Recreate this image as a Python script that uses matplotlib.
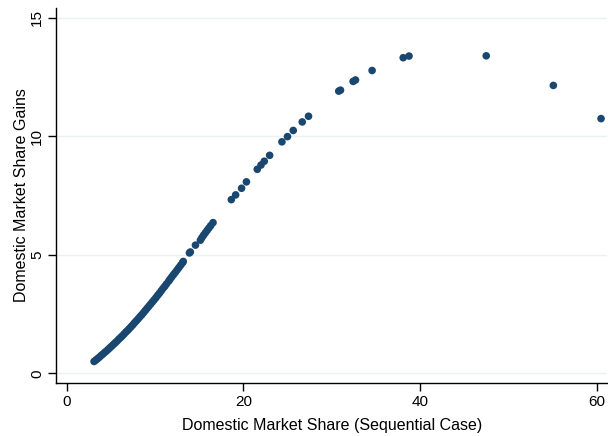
import matplotlib
matplotlib.use('Agg')
import matplotlib.pyplot as plt

plt.rcParams['font.family'] = ['Liberation Sans', 'DejaVu Sans']

# dense part of the curve
share_seq = [3.1, 3.3, 3.5, 3.7, 3.9, 4.1, 4.3, 4.5, 4.7, 4.9,
             5.1, 5.3, 5.5, 5.7, 5.9, 6.1, 6.3, 6.5, 6.7, 6.9,
             7.1, 7.3, 7.5, 7.7, 7.9, 8.1, 8.3, 8.5, 8.7, 8.9,
             9.1, 9.3, 9.5, 9.7, 9.9, 10.1, 10.3, 10.5, 10.7, 10.9,
             11.1, 11.3, 11.55, 11.7, 11.9, 12.1, 12.3, 12.5, 12.7, 12.9,
             13.1, 13.2, 13.9, 14.0, 14.58, 15.14, 15.3, 15.5, 15.7, 15.9,
             16.1, 16.3, 16.57,
             18.64, 19.13, 19.8, 20.35, 21.58, 22.0, 22.37, 22.98, 24.37, 25.0,
             25.65, 26.67, 27.38, 30.8, 31.0, 32.43, 32.7, 34.58, 38.1, 38.76,
             47.5, 55.1, 60.5]
share_gain = [0.50, 0.56, 0.62, 0.68, 0.75, 0.81, 0.88, 0.94, 1.01, 1.08,
              1.15, 1.22, 1.29, 1.36, 1.44, 1.51, 1.58, 1.66, 1.74, 1.81,
              1.89, 1.97, 2.05, 2.14, 2.22, 2.30, 2.39, 2.47, 2.56, 2.65,
              2.74, 2.83, 2.92, 3.01, 3.10, 3.19, 3.29, 3.38, 3.48, 3.58,
              3.67, 3.77, 3.89, 3.97, 4.07, 4.17, 4.26, 4.36, 4.46, 4.56,
              4.66, 4.72, 5.08, 5.12, 5.41, 5.62, 5.72, 5.83, 5.93, 6.03,
              6.13, 6.23, 6.36,
              7.33, 7.53, 7.81, 8.08, 8.61, 8.79, 8.95, 9.20, 9.77, 9.99,
              10.25, 10.61, 10.85, 11.91, 11.95, 12.32, 12.38, 12.78, 13.32, 13.39,
              13.40, 12.15, 10.75]

xticks = [0, 20, 40, 60]
yticks = [0, 5, 10, 15]

fig = plt.figure(figsize=(6.08, 4.36), dpi=100)
ax = fig.add_axes([0.0929, 0.1222, 0.9054, 0.8601])

ax.scatter(share_seq, share_gain, s=30, color='#1a476f', edgecolors='none', zorder=3)

ax.set_xlim(-1.155, 61.17)
ax.set_ylim(-0.397, 15.43)
ax.set_xticks(xticks)
ax.set_yticks(yticks)
ax.set_yticklabels([str(t) for t in yticks], rotation=90, va='center')
ax.yaxis.grid(True, color='#eaf2f3', linewidth=1.0)
ax.set_axisbelow(True)

for s in ['top', 'right']:
  ax.spines[s].set_visible(False)
for s in ['left', 'bottom']:
  ax.spines[s].set_linewidth(1.0)
  ax.spines[s].set_color('black')

ax.tick_params(axis='both', direction='out', length=6, width=1, labelsize=11, pad=3)

ax.set_xlabel('Domestic Market Share (Sequential Case)', fontsize=11.5, labelpad=6)
ax.set_ylabel('Domestic Market Share Gains', fontsize=11.5, labelpad=1)

fig.savefig('out.png', dpi=100, facecolor='white')
